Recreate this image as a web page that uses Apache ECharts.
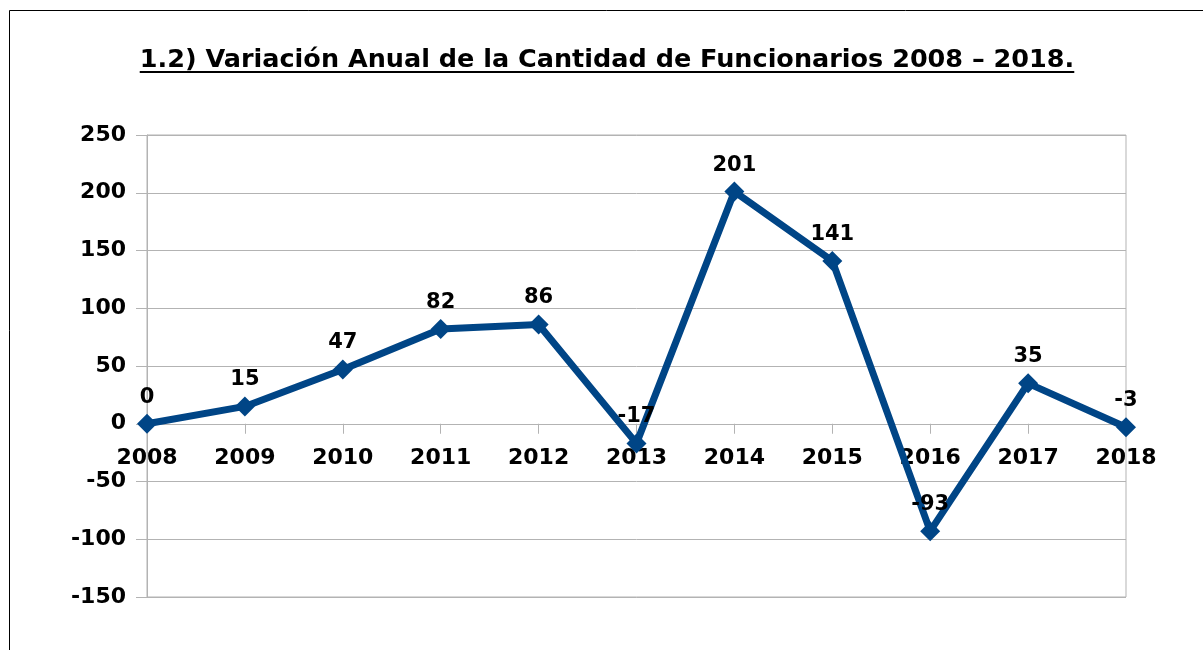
<!DOCTYPE html>
<html><head><meta charset="utf-8">
<script src="https://cdn.jsdelivr.net/npm/echarts@6/dist/echarts.min.js"></script>
<style>html,body{margin:0;padding:0;background:#fff}#c{width:1203px;height:650px}</style>
</head><body><div id="c"></div>
<script>
const titleText = '1.2) Variación Anual de la Cantidad de Funcionarios 2008 – 2018.';
const years = ['2008','2009','2010','2011','2012','2013','2014','2015','2016','2017','2018'];
const variation = [0, 15, 47, 82, 86, -17, 201, 141, -93, 35, -3];
const yMin = -150, yMax = 250, yStep = 50;

const FONT = 'DejaVu Sans';
const titleFont = 'bold 25.5px "' + FONT + '"';
const cv = document.createElement('canvas').getContext('2d');
cv.font = titleFont;
const tw = cv.measureText(titleText).width;
const tcx = 607;

const gTop = 135, gBottom = 53, H = 650;
const plotH = H - gTop - gBottom;
const zeroFromBottom = plotH * (0 - yMin) / (yMax - yMin);

const chart = echarts.init(document.getElementById('c'), null, {renderer:'canvas'});
chart.setOption({
  animation:false,
  backgroundColor:'#fff',
  textStyle:{fontFamily:FONT},
  graphic:[
    {type:'rect', shape:{x:9.5,y:10.5,width:1400,height:900}, style:{fill:'none',stroke:'#000',lineWidth:1}, silent:true},
    {type:'text', x:tcx, y:60, style:{text:titleText, font:titleFont, fill:'#000', align:'center', verticalAlign:'middle'}},
    {type:'line', shape:{x1:tcx-tw/2, y1:72, x2:tcx+tw/2, y2:72}, style:{stroke:'#000', lineWidth:2}}
  ],
  grid:{left:147, right:77, top:gTop, bottom:gBottom, show:true, borderColor:'#b3b3b3', borderWidth:1, backgroundColor:'transparent'},
  xAxis:{
    type:'category', data:years, boundaryGap:false,
    offset:-zeroFromBottom,
    axisLine:{onZero:false, lineStyle:{color:'#b3b3b3', width:1}},
    axisTick:{show:true, length:10, inside:false, alignWithLabel:true, lineStyle:{color:'#b3b3b3'}},
    axisLabel:{color:'#000', fontWeight:'bold', fontSize:22, margin:24, fontFamily:FONT, interval:0},
    splitLine:{show:false}
  },
  yAxis:{
    type:'value', min:yMin, max:yMax, interval:yStep,
    axisLine:{show:true, lineStyle:{color:'#b3b3b3', width:1}},
    axisTick:{show:true, length:11, lineStyle:{color:'#b3b3b3'}},
    axisLabel:{color:'#000', fontWeight:'bold', fontSize:22, margin:21, fontFamily:FONT},
    splitLine:{show:true, lineStyle:{color:'#b3b3b3', width:1}}
  },
  series:[{
    type:'line', data:variation,
    symbol:'diamond', symbolSize:20, showAllSymbol:true,
    lineStyle:{color:'#004586', width:7},
    itemStyle:{color:'#004586'},
    label:{show:true, position:'top', distance:6, color:'#000', fontWeight:'bold', fontSize:21, fontFamily:FONT},
    z:3
  }]
});
</script>
</body></html>
